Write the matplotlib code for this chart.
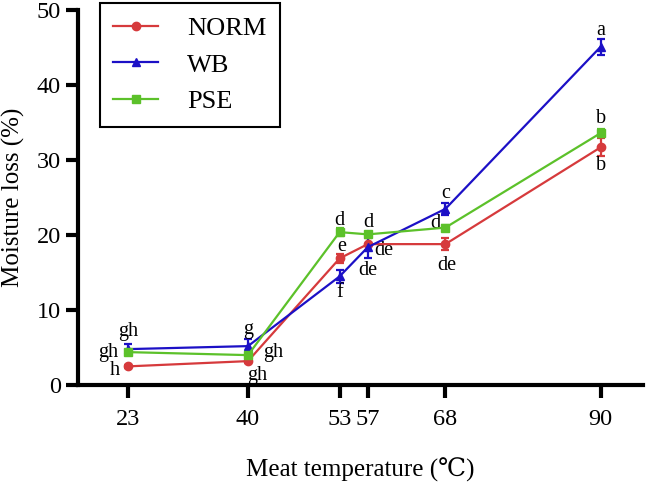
import matplotlib
matplotlib.use("Agg")
import matplotlib.pyplot as plt
from matplotlib.lines import Line2D

# temperatures (x) and moisture loss values
temps = [23, 40, 53, 57, 68, 90]
norm = [2.5, 3.2, 16.9, 18.8, 18.8, 31.7]
norm_err = [0.2, 0.3, 0.6, 0.8, 0.8, 1.2]
wb = [4.8, 5.2, 14.5, 18.4, 23.5, 45.1]
wb_err = [0.7, 1.0, 0.9, 1.5, 0.8, 1.1]
pse = [4.4, 4.0, 20.4, 20.1, 21.0, 33.6]
pse_err = [0.3, 0.3, 0.5, 0.3, 0.3, 0.5]

# significance letters: (x, y, text)
letters = [
    (23, 7.1, "gh"), (20.2, 4.4, "gh"), (21.1, 2.0, "h"),
    (40, 7.4, "g"), (43.6, 4.4, "gh"), (41.3, 1.3, "gh"),
    (53, 21.9, "d"), (53.3, 18.5, "e"), (53, 12.3, "f"),
    (57, 21.7, "d"), (59.2, 18.0, "de"), (57, 15.3, "de"),
    (68, 25.6, "c"), (66.6, 21.6, "d"), (68.2, 16.0, "de"),
    (90, 47.3, "a"), (90, 35.6, "b"), (90, 29.3, "b"),
]

plt.rcParams['font.family'] = ['Liberation Serif', 'DejaVu Serif']

fig = plt.figure(figsize=(6.47, 4.82), dpi=100)
ax = fig.add_axes([0.1206, 0.201, 0.873, 0.778])

c_norm = '#d63a3c'
c_wb = '#1c10c6'
c_pse = '#5cc12a'

series = [(norm, norm_err, c_norm, 'o', "NORM"),
          (wb, wb_err, c_wb, '^', "WB"),
          (pse, pse_err, c_pse, 's', "PSE")]
handles = []
for vals, errs, col, mk, lab in series:
    ax.errorbar(temps, vals, yerr=errs, color=col, marker=mk, markersize=6,
                lw=1.6, capsize=3, elinewidth=1.6, capthick=1.6, zorder=3)
    handles.append(Line2D([], [], color=col, marker=mk, markersize=6, lw=1.6, label=lab))

for x, y, t in letters:
    ax.text(x, y, t, ha='center', va='center', fontsize=14.5)

ax.set_xlim(15.9, 96)
ax.set_ylim(0, 50)
ax.set_xticks(temps)
ax.set_yticks([0, 10, 20, 30, 40, 50])
ax.tick_params(width=3, length=9, labelsize=17.5, direction='out')
ax.tick_params(axis='x', pad=8)
for s in ['top', 'right']:
    ax.spines[s].set_visible(False)
for s in ['left', 'bottom']:
    ax.spines[s].set_linewidth(3)

ax.set_xlabel("Meat temperature (℃)", fontsize=18, labelpad=20)
ax.set_ylabel("Moisture loss (%)", fontsize=18, labelpad=8)

leg = ax.legend(handles=handles, loc='upper left', bbox_to_anchor=(0.039, 1.018), fontsize=19,
                frameon=True, fancybox=False, edgecolor='black', framealpha=1,
                handlelength=1.7, borderpad=0.5, labelspacing=0.5, handletextpad=1.1,
                borderaxespad=0)
leg.get_frame().set_linewidth(1.5)

fig.savefig("out.png", dpi=100)
